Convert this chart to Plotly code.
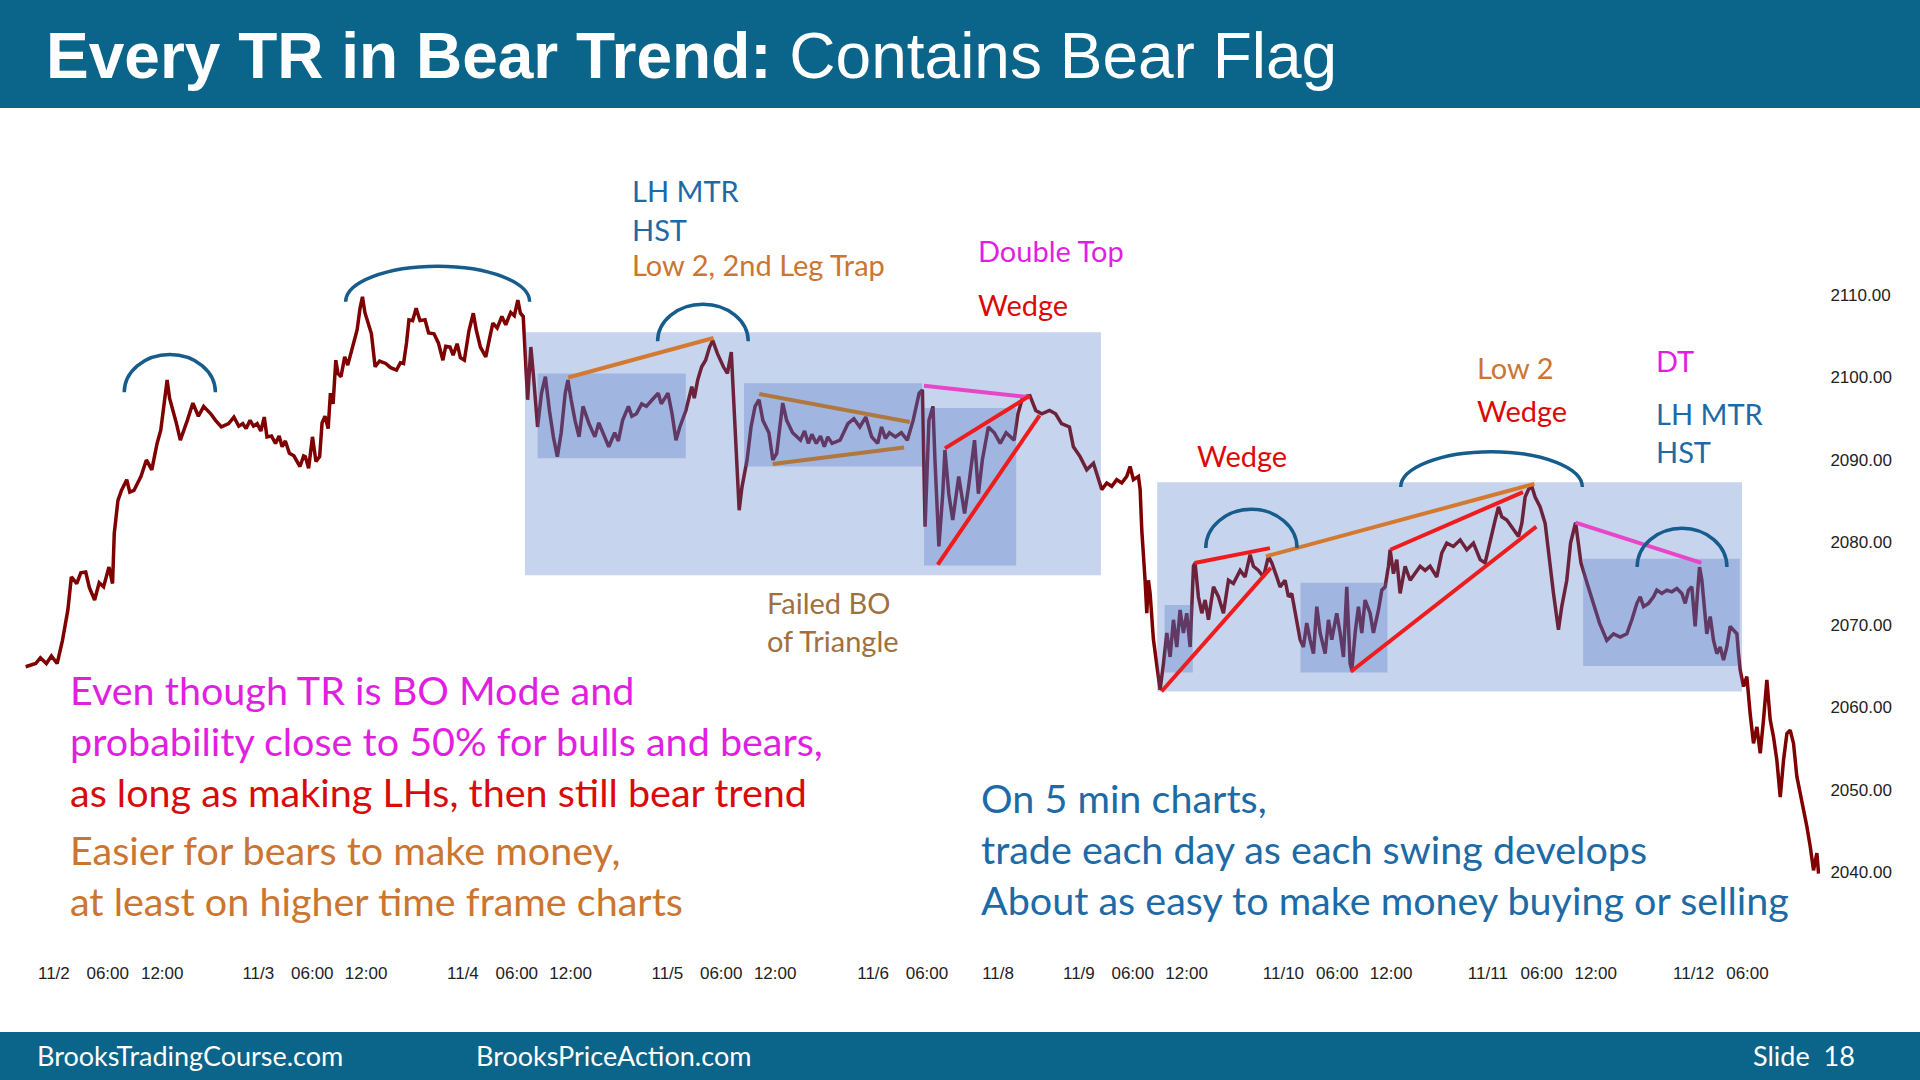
import plotly.graph_objects as go

# ---------------- data (x = trading hours from 11/2 00:00, y = price) ----------------
rally_11_2_to_11_4 = [
    (-3.14, 2064.9), (-2.02, 2065.3), (-1.50, 2066.0), (-0.83, 2065.3), (-0.27, 2066.2), (0.37, 2065.3),
    (0.96, 2068.1), (1.56, 2071.8), (1.95, 2075.8), (2.55, 2075.0), (3.00, 2076.3), (3.55, 2076.4),
    (3.96, 2074.5), (4.54, 2073.0), (5.05, 2075.1), (5.54, 2074.6), (6.14, 2077.0), (6.54, 2075.0),
    (6.73, 2081.1), (7.14, 2085.1), (7.53, 2086.3), (8.12, 2087.6), (8.46, 2086.1), (8.92, 2086.3),
    (9.71, 2088.0), (10.31, 2090.0), (10.91, 2088.8), (11.50, 2092.0), (11.91, 2093.6), (12.31, 2096.9),
    (12.62, 2099.7), (12.89, 2097.5), (13.30, 2096.0), (13.64, 2094.5), (14.09, 2092.4), (14.46, 2093.5),
    (14.87, 2094.8), (15.49, 2096.9), (16.10, 2095.3), (16.69, 2096.5), (17.48, 2095.6), (18.01, 2094.8),
    (18.66, 2094.0), (19.47, 2094.4), (20.06, 2095.2), (20.60, 2094.1), (21.05, 2094.4), (21.42, 2093.8),
    (21.86, 2094.8), (22.24, 2094.1), (22.65, 2094.4), (23.06, 2093.5), (23.44, 2095.2), (23.74, 2092.8),
    (24.24, 2092.9), (24.69, 2092.0), (25.10, 2092.9), (25.43, 2091.6), (25.79, 2092.3), (26.24, 2090.8),
    (26.74, 2090.5), (27.42, 2089.2), (27.83, 2090.5), (28.02, 2090.4), (28.38, 2089.0), (28.81, 2092.8),
    (29.20, 2089.8), (29.61, 2090.4), (29.88, 2094.5), (30.21, 2095.3), (30.56, 2093.8), (30.81, 2098.1),
    (31.11, 2096.8), (31.41, 2102.1), (31.65, 2100.5), (31.99, 2100.1), (32.40, 2102.5), (32.74, 2101.5),
    (33.29, 2103.9), (33.79, 2105.8), (34.11, 2108.4), (34.38, 2109.8), (34.65, 2107.9), (34.93, 2106.9),
    (35.38, 2105.3), (35.79, 2101.3), (36.29, 2102.0), (36.97, 2101.7), (37.52, 2101.2), (38.17, 2100.9),
    (38.61, 2101.8), (38.96, 2101.7), (39.29, 2104.2), (39.56, 2107.0), (39.97, 2106.9), (40.36, 2108.4),
    (40.79, 2106.9), (41.35, 2107.0), (41.75, 2105.4), (42.35, 2105.3), (42.84, 2104.2), (43.34, 2102.1),
    (43.66, 2103.8), (44.14, 2103.7), (44.48, 2102.7), (44.93, 2104.1), (45.29, 2102.4), (45.73, 2102.1),
    (46.25, 2105.7), (46.73, 2107.8), (47.07, 2105.7), (47.52, 2103.7), (47.89, 2103.0), (48.12, 2102.5),
    (48.57, 2104.9), (48.91, 2106.6), (49.39, 2106.0), (49.91, 2107.4), (50.34, 2106.4), (50.90, 2107.9),
    (51.30, 2107.5), (51.69, 2109.4), (51.98, 2107.8), (52.29, 2107.4),
]

first_trading_range = [
    (52.78, 2097.3), (53.14, 2103.7), (53.44, 2100.1), (53.89, 2094.0), (54.33, 2098.1), (54.76, 2100.1),
    (55.21, 2096.0), (55.65, 2092.8), (56.09, 2090.4), (56.52, 2093.3), (56.97, 2098.1), (57.27, 2099.7),
    (57.63, 2097.3), (58.06, 2094.8), (58.51, 2092.8), (58.95, 2096.5), (59.62, 2094.4), (60.27, 2092.8),
    (60.71, 2094.5), (61.16, 2093.3), (61.82, 2091.6), (62.48, 2093.3), (62.89, 2092.3), (63.36, 2094.8),
    (64.01, 2096.5), (64.39, 2095.3), (64.90, 2095.6), (65.49, 2096.8), (66.01, 2096.5), (66.66, 2097.3),
    (67.33, 2098.1), (67.67, 2096.8), (67.98, 2097.3), (68.42, 2098.1), (68.87, 2095.6), (69.31, 2092.4),
    (69.74, 2094.0), (70.41, 2096.0), (71.07, 2098.9), (71.35, 2097.5), (71.73, 2099.7), (72.17, 2101.3),
    (72.61, 2102.1), (73.05, 2103.7), (73.40, 2104.5), (73.93, 2102.9), (74.59, 2101.3), (75.04, 2100.5),
    (75.47, 2103.1), (75.69, 2098.1), (76.13, 2090.0), (76.35, 2083.9), (76.66, 2086.7), (77.23, 2090.0),
    (77.67, 2094.0), (78.12, 2096.5), (78.56, 2097.3), (78.99, 2094.8), (79.66, 2093.3), (80.10, 2090.0),
    (80.53, 2090.8), (81.20, 2096.9), (81.64, 2094.8), (82.30, 2093.3), (83.18, 2092.4), (83.63, 2093.5),
    (84.06, 2092.0), (84.45, 2093.1), (84.94, 2092.0), (85.41, 2092.9), (85.83, 2091.6), (86.22, 2092.8),
    (86.70, 2092.0), (87.59, 2092.4), (88.46, 2094.4), (89.13, 2095.0), (89.79, 2094.0), (90.45, 2095.2),
    (91.11, 2092.8), (91.78, 2092.0), (92.21, 2094.0), (92.64, 2092.6), (93.09, 2093.3), (93.75, 2092.8),
    (94.41, 2093.3), (95.08, 2092.4), (95.73, 2094.8), (96.40, 2098.1), (96.76, 2098.5), (97.06, 2081.9),
    (97.49, 2094.8), (97.94, 2096.5), (98.16, 2090.0), (98.60, 2079.5), (99.03, 2085.9), (99.27, 2091.2),
    (99.70, 2085.9), (100.14, 2082.7), (100.81, 2088.0), (101.46, 2083.5), (101.90, 2086.7), (102.57, 2092.4),
    (103.00, 2085.9), (103.44, 2090.0), (104.11, 2094.0), (104.77, 2093.3), (105.43, 2092.0), (106.09, 2093.3),
    (106.98, 2092.4), (107.41, 2095.6), (107.85, 2097.3), (108.29, 2097.7), (108.74, 2097.8), (109.39, 2096.0),
    (110.06, 2095.6), (110.93, 2096.0), (111.60, 2095.6), (112.26, 2094.4), (113.14, 2094.0), (113.58, 2091.6),
]

second_trading_range_and_selloff = [
    (114.33, 2090.4), (115.07, 2088.8), (115.82, 2089.6), (116.37, 2087.6), (116.74, 2086.4), (117.30, 2087.2),
    (117.86, 2086.8), (118.41, 2087.6), (118.97, 2087.2), (119.53, 2088.0), (119.90, 2089.2), (120.27, 2087.6),
    (120.83, 2088.0), (121.02, 2086.4), (121.20, 2081.5), (121.57, 2075.4), (121.76, 2071.4), (121.94, 2075.4),
    (122.13, 2073.8), (122.50, 2068.2), (122.87, 2065.3), (123.24, 2062.1), (123.62, 2065.3), (123.99, 2069.0),
    (124.36, 2066.1), (124.73, 2070.6), (125.10, 2067.3), (125.47, 2071.8), (125.84, 2069.0), (126.21, 2071.4),
    (126.59, 2067.3), (126.96, 2077.1), (127.14, 2077.5), (127.51, 2073.4), (127.89, 2071.4), (128.26, 2073.0),
    (128.63, 2070.6), (129.19, 2074.6), (129.74, 2073.4), (130.30, 2071.4), (130.86, 2075.4), (131.41, 2075.0),
    (132.16, 2076.6), (132.71, 2075.8), (133.27, 2078.5), (133.64, 2077.1), (134.20, 2076.6), (134.76, 2075.8),
    (135.31, 2078.3), (135.69, 2077.5), (136.24, 2075.8), (136.61, 2074.6), (137.17, 2075.4), (137.54, 2073.4),
    (137.91, 2073.8), (138.29, 2071.4), (138.84, 2068.2), (139.21, 2067.3), (139.58, 2070.2), (139.95, 2068.2),
    (140.33, 2066.5), (140.70, 2072.2), (141.07, 2069.0), (141.63, 2066.5), (142.00, 2070.6), (142.37, 2068.2),
    (142.92, 2071.4), (143.30, 2069.0), (143.67, 2066.1), (144.04, 2074.6), (144.41, 2065.3), (144.60, 2064.5),
    (144.97, 2069.0), (145.34, 2072.2), (145.71, 2069.0), (146.08, 2073.0), (146.64, 2071.4), (147.01, 2069.0),
    (147.57, 2071.8), (147.94, 2074.2), (148.31, 2074.6), (148.68, 2077.1), (148.87, 2079.1), (149.24, 2076.2),
    (149.61, 2077.9), (149.98, 2073.8), (150.54, 2077.1), (151.10, 2075.4), (151.65, 2076.2), (152.21, 2077.1),
    (152.77, 2076.6), (153.32, 2077.1), (154.07, 2075.8), (154.62, 2078.7), (155.18, 2079.9), (155.92, 2079.5),
    (156.67, 2080.3), (157.41, 2079.1), (158.15, 2079.9), (158.90, 2077.9), (159.45, 2077.5), (160.01, 2080.3),
    (160.57, 2082.7), (160.94, 2084.3), (161.31, 2083.1), (161.87, 2082.7), (162.61, 2081.5), (163.17, 2080.7),
    (163.54, 2082.3), (163.91, 2085.5), (164.28, 2086.4), (164.65, 2086.8), (165.02, 2085.5), (165.58, 2084.3),
    (166.14, 2082.3), (166.51, 2078.7), (167.07, 2073.8), (167.62, 2069.4), (167.99, 2072.2), (168.55, 2075.4),
    (168.97, 2079.9), (169.53, 2082.4), (170.13, 2077.5), (170.82, 2075.0), (171.51, 2072.6), (172.20, 2070.2),
    (173.01, 2068.1), (173.76, 2068.9), (174.50, 2068.5), (175.24, 2068.9), (175.80, 2070.6), (176.36, 2072.6),
    (176.73, 2073.4), (177.10, 2072.2), (177.66, 2072.6), (178.21, 2073.4), (178.58, 2074.2), (179.14, 2073.8),
    (179.70, 2074.2), (180.25, 2074.0), (180.81, 2074.4), (181.37, 2073.8), (181.74, 2072.6), (182.11, 2074.2),
    (182.48, 2074.6), (182.85, 2069.8), (183.11, 2073.8), (183.34, 2077.0), (183.60, 2075.4), (183.86, 2072.2),
    (184.15, 2068.9), (184.53, 2071.0), (184.90, 2068.1), (185.27, 2066.5), (185.64, 2067.3), (186.01, 2065.7),
    (186.38, 2067.3), (186.75, 2069.8), (187.13, 2069.4), (187.50, 2068.9), (187.68, 2066.5), (187.87, 2064.5),
    (188.24, 2062.5), (188.61, 2063.7), (188.98, 2059.2), (189.35, 2055.6), (189.73, 2057.6), (190.10, 2054.4),
    (190.47, 2058.5), (190.84, 2063.3), (191.21, 2058.5), (191.58, 2056.4), (191.95, 2053.6), (192.33, 2049.1),
    (192.70, 2053.6), (193.07, 2056.8), (193.44, 2057.2), (193.81, 2055.6), (194.18, 2051.6), (194.55, 2049.5),
    (194.93, 2047.9), (195.30, 2045.5), (195.67, 2043.1), (196.04, 2040.2), (196.41, 2042.3), (196.60, 2039.8),
]

price_ticks = [2040, 2050, 2060, 2070, 2080, 2090, 2100, 2110]
time_tick_hours = [0.0, 6.0, 12.07, 22.78, 28.79, 34.79, 45.57, 51.57, 57.57, 68.35, 74.35, 80.36,
                   91.27, 97.27, 105.19, 114.19, 120.19, 126.2, 136.98, 142.98, 148.98,
                   159.76, 165.76, 171.77, 182.68, 188.68]
time_tick_labels = ["11/2", "06:00", "12:00", "11/3", "06:00", "12:00", "11/4", "06:00", "12:00",
                    "11/5", "06:00", "12:00", "11/6", "06:00", "11/8", "11/9", "06:00", "12:00",
                    "11/10", "06:00", "12:00", "11/11", "06:00", "12:00", "11/12", "06:00"]

# trading-range boxes: (start hour, end hour, low price, high price)
outer_ranges = [(52.48, 116.65, 2076.0, 2105.5), (122.92, 188.07, 2061.9, 2087.3)]
inner_ranges = [(53.89, 70.40, 2090.2, 2100.5), (76.89, 96.73, 2089.2, 2099.3), (96.95, 107.21, 2077.2, 2096.3),
                (123.74, 126.88, 2064.2, 2072.4), (138.89, 148.57, 2064.2, 2075.1), (170.37, 187.82, 2065.0, 2078.0)]

# drawn trend lines: (hour0, price0, hour1, price1, kind)
trend_lines = [
    (57.30, 2100.0, 73.49, 2104.8, "low2"),
    (78.58, 2098.0, 95.36, 2094.6, "triangle"),
    (80.08, 2089.5, 94.72, 2091.5, "triangle"),
    (96.93, 2099.0, 108.74, 2097.6, "dt"),
    (99.27, 2091.4, 108.74, 2097.8, "wedge"),
    (98.47, 2077.3, 109.82, 2095.4, "wedge"),
    (127.08, 2077.5, 135.48, 2079.3, "wedge"),
    (123.40, 2061.9, 135.58, 2076.9, "wedge"),
    (135.02, 2078.3, 164.94, 2087.1, "low2"),
    (148.89, 2079.1, 163.67, 2086.1, "wedge"),
    (144.48, 2064.3, 165.16, 2081.9, "wedge"),
    (169.53, 2082.4, 183.54, 2077.5, "dt"),
]
line_colors = {"low2": "#D47A30", "triangle": "#B0773E", "dt": "#E846C8", "wedge": "#EE1C1C"}

# top arcs: (start hour, end hour, base price, top price)
top_arcs = [(7.84, 18.0, 2098.2, 2102.8), (32.51, 53.0, 2109.2, 2113.5), (67.26, 77.36, 2104.4, 2108.9),
            (128.33, 138.50, 2079.3, 2084.0), (150.05, 170.28, 2086.7, 2091.0), (176.39, 186.39, 2077.0, 2081.7)]

# slide texts: (text, left px, center px, colour, size)
BLUE, MAG, RED, ORANGE, BROWN = "#1D6AA6", "#E11FE0", "#DA0A0A", "#CB7531", "#A0703E"
BIG = 39.5
slide_texts = [
    ("LH MTR", 630, 191, BLUE, 29), ("HST", 630, 229, BLUE, 29),
    ("Low 2, 2nd Leg Trap", 630, 264, ORANGE, 29),
    ("Double Top", 976, 251, MAG, 29), ("Wedge", 976, 304, RED, 29),
    ("Failed BO", 765, 602, BROWN, 29), ("of Triangle", 765, 640, BROWN, 29),
    ("Wedge", 1195, 455, RED, 29),
    ("Low 2", 1475, 368, ORANGE, 29), ("Wedge", 1475, 410, RED, 29),
    ("DT", 1654, 360, MAG, 29), ("LH MTR", 1654, 413, BLUE, 29), ("HST", 1654, 451, BLUE, 29),
    ("Even though TR is BO Mode and", 68, 689, MAG, BIG),
    ("probability close to 50% for bulls and bears,", 68, 740, MAG, BIG),
    ("as long as making LHs, then still bear trend", 68, 791, RED, BIG),
    ("Easier for bears to make money,", 68, 849, ORANGE, BIG),
    ("at least on higher time frame charts", 68, 900, ORANGE, BIG),
    ("On 5 min charts,", 979, 797, BLUE, BIG),
    ("trade each day as each swing develops", 979, 848, BLUE, BIG),
    ("About as easy to make money buying or selling", 979, 899, BLUE, BIG),
]

# ---------------- layout geometry ----------------
W, H = 1920, 1080
ML, MR, MT, MB = 0, 100, 110, 119
PW, PH = W - ML - MR, H - MT - MB
X_RANGE = [-6.00, 196.76]
Y_RANGE = [2029.20, 2132.46]
BAR = "#0B6489"


def px(xf):
    return (xf - ML) / PW


def py(yf):
    return (H - MB - yf) / PH


series = rally_11_2_to_11_4 + first_trading_range + second_trading_range_and_selloff
hours = [t for t, _ in series]
price = [p for _, p in series]

fig = go.Figure()
fig.add_trace(go.Scatter(x=hours, y=price, mode="lines",
                         line=dict(color="#7E0000", width=3.5), hoverinfo="skip", showlegend=False))

shapes = []
# slide header / footer bars
shapes.append(dict(type="rect", xref="paper", yref="paper", x0=px(0), x1=px(W), y0=py(108), y1=py(0),
                   fillcolor=BAR, line=dict(width=0), layer="below"))
shapes.append(dict(type="rect", xref="paper", yref="paper", x0=px(0), x1=px(W), y0=py(H), y1=py(1032),
                   fillcolor=BAR, line=dict(width=0), layer="below"))
for t0, t1, lo, hi in outer_ranges + inner_ranges:
    shapes.append(dict(type="rect", xref="x", yref="y", x0=t0, x1=t1, y0=lo, y1=hi,
                       fillcolor="rgba(68,114,196,0.30)", line=dict(width=0), layer="above"))
for t0, p0, t1, p1, kind in trend_lines:
    shapes.append(dict(type="line", xref="x", yref="y", x0=t0, y0=p0, x1=t1, y1=p1,
                       line=dict(color=line_colors[kind], width=4), layer="above"))
K = 0.5523
for t0, t1, base, top in top_arcs:
    tm, a, h = (t0 + t1) / 2, (t1 - t0) / 2, top - base
    path = (f"M {t0},{base} C {t0},{base + K * h} {tm - K * a},{top} {tm},{top} "
            f"C {tm + K * a},{top} {t1},{base + K * h} {t1},{base}")
    shapes.append(dict(type="path", xref="x", yref="y", path=path,
                       line=dict(color="#165C8C", width=3.5), layer="above"))

annotations = []
annotations.append(dict(xref="paper", yref="paper", x=px(44), y=py(56), xanchor="left", yanchor="middle",
                        text="<b>Every TR in Bear Trend:</b> Contains Bear Flag", showarrow=False,
                        font=dict(family="Liberation Sans, Arial, sans-serif", size=64, color="white")))
for txt, xl in [("BrooksTradingCourse.com", 35), ("BrooksPriceAction.com", 474), ("Slide\u00a0 18", 1751)]:
    annotations.append(dict(xref="paper", yref="paper", x=px(xl), y=py(1055), xanchor="left",
                            yanchor="middle", text=txt, showarrow=False,
                            font=dict(family="Lato, sans-serif", size=27, color="white")))
for txt, xl, yc, col, size in slide_texts:
    annotations.append(dict(xref="paper", yref="paper", x=px(xl), y=py(yc), xanchor="left",
                            yanchor="middle", text=txt, showarrow=False,
                            font=dict(family="Lato, sans-serif", size=size, color=col)))

fig.update_layout(
    width=W, height=H, margin=dict(l=ML, r=MR, t=MT, b=MB, pad=0),
    paper_bgcolor="white", plot_bgcolor="white",
    shapes=shapes, annotations=annotations, showlegend=False,
    xaxis=dict(range=X_RANGE, tickmode="array", tickvals=time_tick_hours, ticktext=time_tick_labels,
               showgrid=False, zeroline=False, showline=False, ticks="",
               tickfont=dict(family="Liberation Sans, Arial, sans-serif", size=17, color="#222222")),
    yaxis=dict(range=Y_RANGE, side="right", tickmode="array", tickvals=price_ticks,
               ticktext=[f"{v:.2f}" for v in price_ticks],
               showgrid=False, zeroline=False, showline=False, ticks="outside", ticklen=6,
               tickcolor="rgba(0,0,0,0)",
               tickfont=dict(family="Liberation Sans, Arial, sans-serif", size=17, color="#222222")),
)

fig.write_html("out.html")
